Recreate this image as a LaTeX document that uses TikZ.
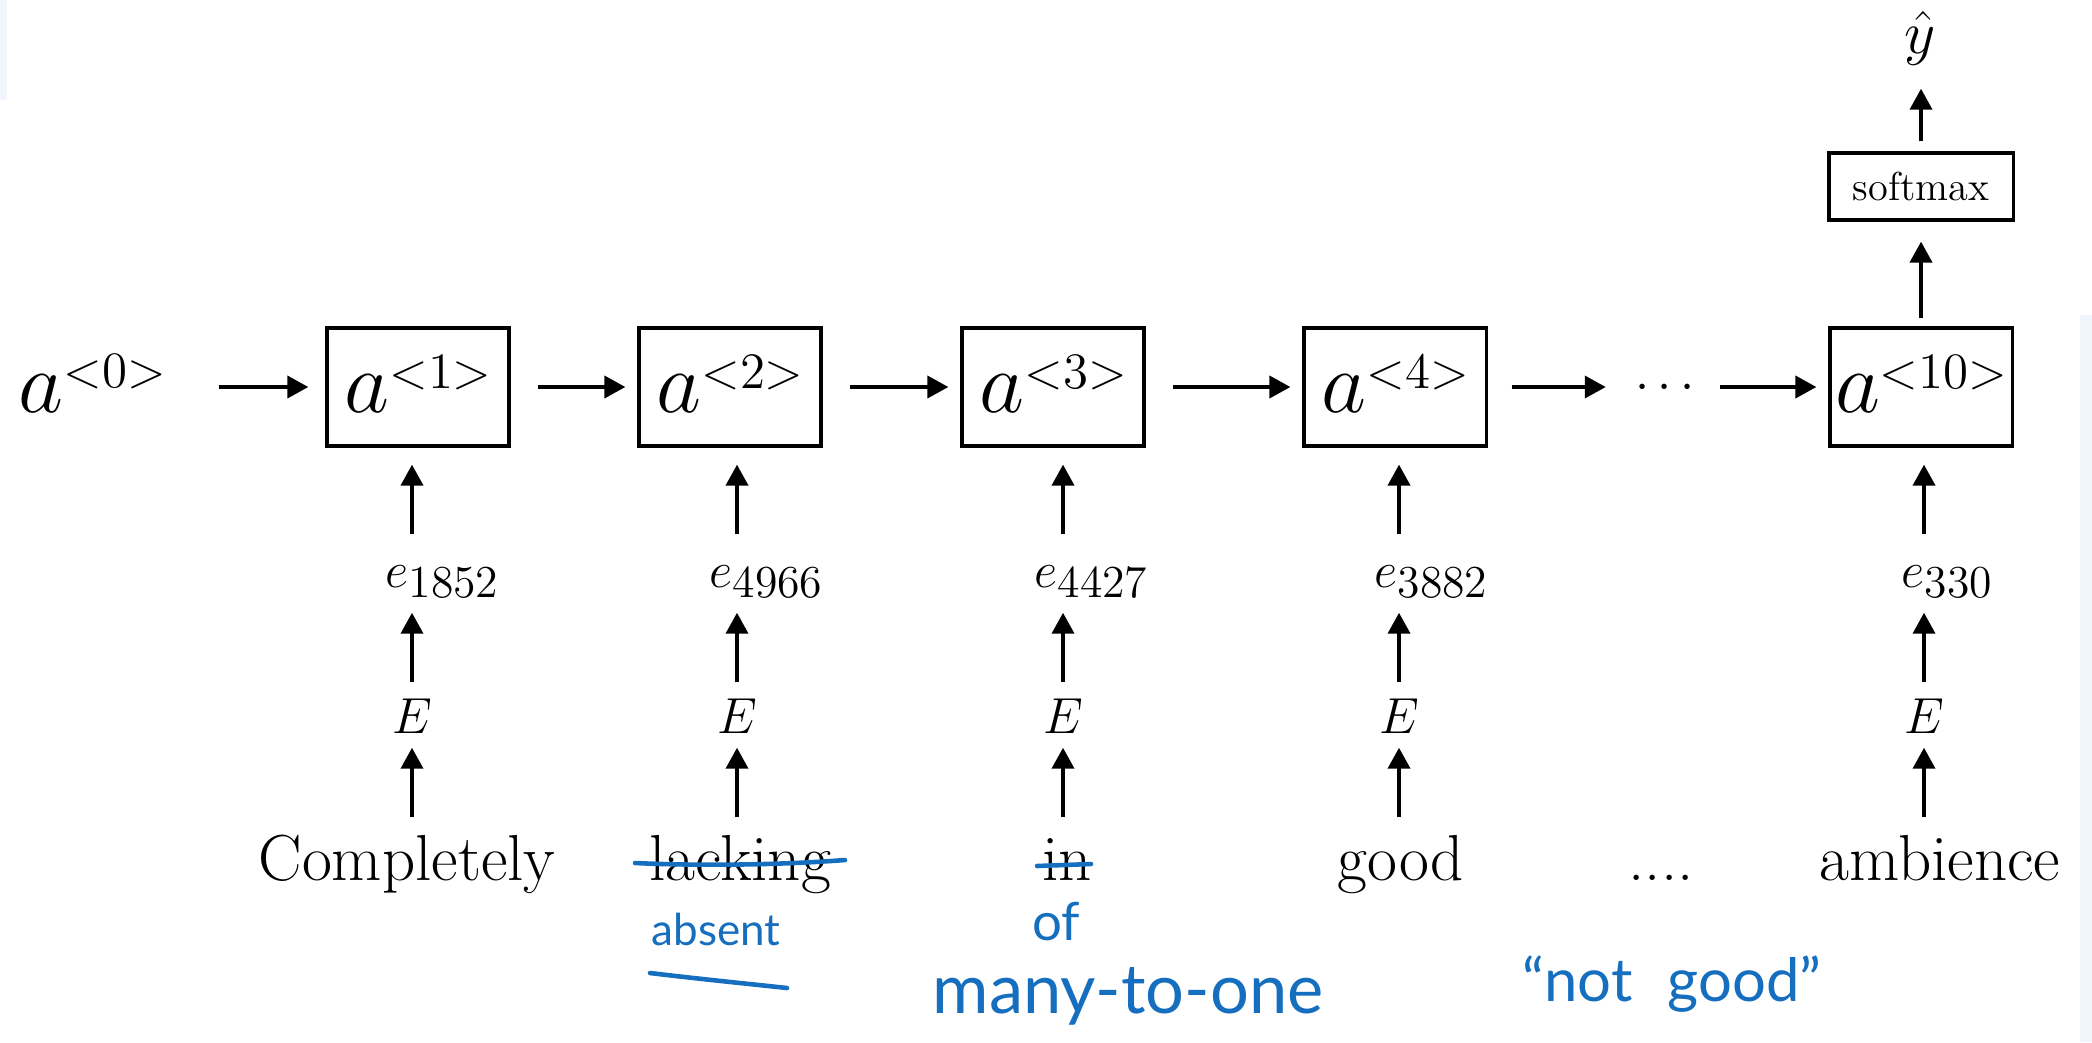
\documentclass[tikz,border=0pt]{standalone}
\usepackage{fontspec}
\usetikzlibrary{arrows.meta}
\newfontfamily\handfont{Lato}
\definecolor{pen}{RGB}{22,110,190}
\definecolor{haze}{RGB}{240,246,251}

% hidden state a^{<t>}
\newcommand\hstate[1]{{\fontsize{23}{26}\selectfont$a$}\raisebox{0.24cm}{\fontsize{14.5}{16}\selectfont$<$#1$>$}}
% embedding vector e_{index}
\newcommand\emb[1]{{\fontsize{14}{16}\selectfont$e$}\raisebox{-0.10cm}{\fontsize{13}{15}\selectfont #1}}

\begin{document}
\begin{tikzpicture}[x=0.01cm, y=-0.01cm,
  arr/.style={line width=1.1pt, -{Triangle[length=0.21cm,width=0.22cm]}},
  hbox/.style={draw, line width=0.9pt, minimum width=1.82cm, inner sep=0pt,
               text height=0.84cm, text depth=0.34cm},
  word/.style={anchor=base, inner sep=0pt, text height=0.62cm, text depth=0.2cm,
               font=\fontsize{18.5}{22}\selectfont},
  emat/.style={anchor=base, inner sep=0pt, text height=0.50cm, text depth=0.14cm,
               font=\fontsize{14}{16}\selectfont},
  elab/.style={anchor=base west, inner sep=0pt, text height=0.52cm, text depth=0.25cm},
  strike/.style={draw=pen, line width=1.3pt, line cap=round},
  hand/.style={anchor=base, inner sep=0pt, text=pen}
]
\useasboundingbox (0,0) rectangle (2092,1042);
\fill[haze] (0,0) rectangle (7,100);
\fill[haze] (2080,315) rectangle (2092,1042);

% recurrent chain
\node[anchor=base west, inner sep=0pt] (a0) at (18,412) {\hstate{0}};
\node[hbox] (h1) at (418,387) {\hstate{1}};
\node[hbox] (h2) at (730,387) {\hstate{2}};
\node[hbox] (h3) at (1053,387) {\hstate{3}};
\node[hbox] (h4) at (1395,387) {\hstate{4}};
\node[anchor=base, inner sep=0pt, font=\fontsize{14}{16}\selectfont] (dots) at (1665,399) {$\cdots$};
\node[hbox] (h10) at (1921,387) {\hstate{10}};

\draw[arr, shorten <=0.52cm, shorten >=0.17cm] (a0.east |- h1.west) -- (h1.west);
\draw[arr, shorten <=0.27cm, shorten >=0.12cm] (h1.east) -- (h2.west);
\draw[arr, shorten <=0.27cm, shorten >=0.12cm] (h2.east) -- (h3.west);
\draw[arr, shorten <=0.27cm, shorten >=0.12cm] (h3.east) -- (h4.west);
\draw[arr, shorten <=0.24cm, shorten >=0.29cm] (h4.east) -- (dots.west |- h4.east);
\draw[arr, shorten <=0.25cm, shorten >=0.12cm] (dots.east |- h10.west) -- (h10.west);

% output head
\node[draw, line width=0.9pt, minimum width=1.84cm, minimum height=0.67cm, inner sep=0pt,
      font=\fontsize{11.5}{13}\selectfont] (sm) at (1921,186.5) {softmax};
\node[anchor=base, inner sep=0pt, text depth=0.12cm, font=\fontsize{18}{20}\selectfont] (yh) at (1920,53) {$\hat{y}$};
\draw[arr, shorten <=0.08cm, shorten >=0.20cm] (h10.north) -- (sm.south);
\draw[arr, shorten <=0.10cm, shorten >=0.23cm] (sm.north) -- (yh.south -| sm.north);

% input words
\node[word] (w1) at (407,880) {Completely};
\node[word] (w2) at (740,880) {lacking};
\node[word] (w3) at (1067,880) {in};
\node[word] (w4) at (1401,880) {good};
\node[word] (wd) at (1661,880) {....};
\node[word] (w10) at (1940,880) {ambience};

% embedding matrix
\node[emat] (E1) at (412,733) {$E$};
\node[emat] (E2) at (737,733) {$E$};
\node[emat] (E3) at (1063,733) {$E$};
\node[emat] (E4) at (1399,733) {$E$};
\node[emat] (E10) at (1924,733) {$E$};

% embedding vectors
\node[elab] (e1) at (385,587) {\emb{1852}};
\node[elab] (e2) at (709,587) {\emb{4966}};
\node[elab] (e3) at (1034,587) {\emb{4427}};
\node[elab] (e4) at (1374,587) {\emb{3882}};
\node[elab] (e10) at (1901,587) {\emb{330}};

\foreach \i in {1,2,3,4,10}{
  \draw[arr] (w\i.north -| E\i.south) -- (E\i.south);
  \draw[arr] (E\i.north) -- (e\i.south -| E\i.north);
  \draw[arr, shorten >=0.17cm] (e\i.north -| E\i.north) -- (h\i.south -| E\i.north);
}

% handwritten notes
\draw[strike] (635,863) .. controls (700,866) and (780,865) .. (845,860);
\draw[strike] (1037,866) -- (1091,864);
\draw[strike] (650,973) .. controls (700,979) and (750,984) .. (787,988);
\node[hand, font=\handfont\fontsize{12.5}{14}\selectfont] (absent) at (716,945) {absent};
\node[hand, font=\handfont\fontsize{15}{17}\selectfont] (of) at (1056,940) {of};
\node[hand, font=\handfont\fontsize{19.5}{22}\selectfont] (many) at (1128,1013) {many-to-one};
\node[hand, font=\handfont\fontsize{17}{19}\selectfont] (notgood) at (1672,1001) {“not\hspace{0.35cm}good”};
\end{tikzpicture}
\end{document}
